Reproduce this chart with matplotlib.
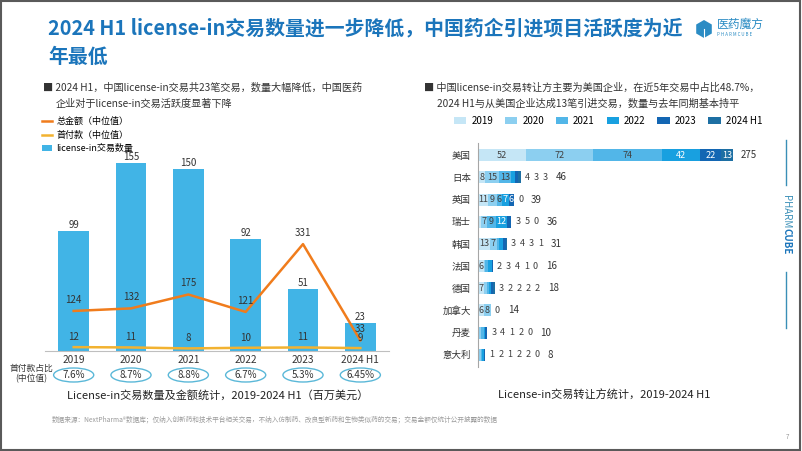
import matplotlib.pyplot as plt
import matplotlib.transforms as mtransforms
from matplotlib.patches import Ellipse, Rectangle, Patch, Polygon
from matplotlib.lines import Line2D
import numpy as np

plt.rcParams['font.family'] = ['Noto Sans CJK SC', 'DejaVu Sans']

W, H = 802, 451

# left chart data
years = ['2019', '2020', '2021', '2022', '2023', '2024 H1']
deal_counts = [99, 155, 150, 92, 51, 23]
total_median = [124, 132, 175, 121, 331, 33]
upfront_median = [12, 11, 8, 10, 11, 9]
upfront_ratio = ['7.6%', '8.7%', '8.8%', '6.7%', '5.3%', '6.45%']

# right chart data
countries = ['美国', '日本', '英国', '瑞士', '韩国', '法国', '德国', '加拿大', '丹麦', '意大利']
series_names = ['2019', '2020', '2021', '2022', '2023', '2024 H1']
v2019 = [52, 8, 11, 3, 13, 6, 7, 6, 0, 1]
v2020 = [72, 15, 9, 7, 7, 2, 3, 8, 3, 2]
v2021 = [74, 13, 6, 9, 3, 3, 2, 0, 4, 1]
v2022 = [42, 4, 7, 12, 4, 4, 2, 0, 1, 2]
v2023 = [22, 3, 6, 5, 3, 1, 2, 0, 2, 2]
v2024 = [13, 3, 0, 0, 1, 0, 2, 0, 0, 0]

blue_title = '#1b75bb'
bar_blue = '#41b4e6'
orange = '#f07c1c'
yellow = '#f2b230'
text_dark = '#333333'
series_colors = ['#c5e6f6', '#8ccff0', '#52b6e8', '#18a0e0', '#1366b3', '#1d6fa3']


def fx(x):
    return x / W


def fy(y):
    return 1 - y / H


fig = plt.figure(figsize=(W / 100, H / 100), dpi=100)
fig.patch.set_facecolor('white')

# slide frame
fig.add_artist(Rectangle((0.001, 0.002), 0.997, 0.996, transform=fig.transFigure,
                         fill=False, edgecolor='#5a5a5a', lw=1.5))

# title
fig.text(fx(48), fy(28), '2024 H1 license-in交易数量进一步降低，中国药企引进项目活跃度为近',
         fontsize=14.3, fontweight='bold', color=blue_title, va='center')
fig.text(fx(48), fy(56), '年最低', fontsize=14.3, fontweight='bold', color=blue_title, va='center')

# logo (cube icon + name)
cx, cy, r = 704, 29, 9
hexagon = [(fx(cx + r * np.cos(a)), fy(cy + r * np.sin(a)))
           for a in np.radians([90, 150, 210, 270, 330, 30])]
fig.add_artist(Polygon(hexagon, closed=True, transform=fig.transFigure,
                       facecolor='#2b8cc4', edgecolor='none'))
fig.add_artist(Line2D([fx(cx), fx(cx)], [fy(cy), fy(cy + r)], transform=fig.transFigure,
                      color='white', lw=0.8))
fig.text(fx(717), fy(24), '医药魔方', fontsize=8.5, color='#2b8cc4', va='center')
fig.text(fx(717), fy(35), 'P H A R M C U B E', fontsize=3.2, color='#2b8cc4', va='center')

# right vertical brand
fig.add_artist(Line2D([fx(786), fx(786)], [fy(140), fy(185)], transform=fig.transFigure,
                      color='#3a8fb7', lw=1))
fig.add_artist(Line2D([fx(786), fx(786)], [fy(272), fy(328)], transform=fig.transFigure,
                      color='#3a8fb7', lw=1))
fig.text(fx(786), fy(228), 'PHARM', fontsize=7, color='#3a8fb7', rotation=-90,
         ha='center', va='bottom')
fig.text(fx(786), fy(228), 'CUBE', fontsize=7, color='#1b75bb', rotation=-90,
         ha='center', va='top', fontweight='bold')

# bullets
fig.text(fx(43), fy(88), '■ 2024 H1，中国license-in交易共23笔交易，数量大幅降低，中国医药',
         fontsize=7.3, color=text_dark, va='center')
fig.text(fx(56), fy(104), '企业对于license-in交易活跃度显著下降', fontsize=7.3, color=text_dark, va='center')
fig.text(fx(424), fy(88), '■ 中国license-in交易转让方主要为美国企业，在近5年交易中占比48.7%，',
         fontsize=7.3, color=text_dark, va='center')
fig.text(fx(437), fy(104), '2024 H1与从美国企业达成13笔引进交易，数量与去年同期基本持平',
         fontsize=7.3, color=text_dark, va='center')

# ---------- left chart ----------
ax = fig.add_axes([fx(45), fy(351), fx(389 - 45), (351 - 155) / H])
ax.patch.set_alpha(0)
x = np.arange(len(years))
ax.bar(x, deal_counts, width=0.54, color=bar_blue, zorder=2)
ax.set_xlim(-0.5, len(years) - 0.5)
ax.set_ylim(0, 161.6)
for i, v in enumerate(deal_counts):
    ax.annotate(str(v), (i, v), xytext=(0, 1), textcoords='offset pixels',
                ha='center', va='bottom', fontsize=7, color=text_dark)
ax.set_xticks(x)
ax.set_xticklabels(years, fontsize=7.3, color=text_dark)
ax.tick_params(axis='x', length=0, pad=3)
ax.set_yticks([])
for s in ['top', 'left', 'right']:
    ax.spines[s].set_visible(False)
ax.spines['bottom'].set_color('#bfbfbf')

ax2 = ax.twinx()
ax2.patch.set_alpha(0)
ax2.plot(x, total_median, color=orange, lw=1.8, zorder=3)
ax2.plot(x, upfront_median, color=yellow, lw=1.8, zorder=3)
ax2.set_ylim(0, 607)
ax2.set_yticks([])
for s in ['top', 'left', 'right', 'bottom']:
    ax2.spines[s].set_visible(False)
for i, v in enumerate(total_median):
    ax2.annotate(str(v), (i, v), xytext=(0, 6), textcoords='offset pixels',
                 ha='center', va='bottom', fontsize=7, color=text_dark)
for i, v in enumerate(upfront_median):
    ax2.annotate(str(v), (i, v), xytext=(0, 5), textcoords='offset pixels',
                 ha='center', va='bottom', fontsize=7, color=text_dark)

# left legend
left_handles = [Line2D([], [], color=orange, lw=1.8),
                Line2D([], [], color=yellow, lw=1.8),
                Patch(facecolor=bar_blue)]
fig.legend(left_handles, ['总金额（中位值）', '首付款（中位值）', 'license-in交易数量'],
           loc='upper left', bbox_to_anchor=(fx(42), fy(117)), frameon=False,
           fontsize=6.5, handlelength=1.1, handletextpad=0.5, labelspacing=0.5,
           borderaxespad=0, borderpad=0)

# ratio row
blend = mtransforms.blended_transform_factory(ax.transData, fig.transFigure)
for i, r in enumerate(upfront_ratio):
    ax.add_artist(Ellipse((i, fy(375)), 0.7, 14 / H, transform=blend, fill=False,
                          edgecolor='#5bb8d8', lw=1, clip_on=False))
    ax.text(i, fy(375), r, transform=blend, ha='center', va='center', fontsize=7,
            color=text_dark, clip_on=False)
fig.text(fx(31), fy(368), '首付款占比', fontsize=6.3, style='italic', color=text_dark,
         ha='center', va='center')
fig.text(fx(31), fy(379), '(中位值)', fontsize=6.3, style='italic', color=text_dark,
         ha='center', va='center')

fig.text(fx(218), fy(395), 'License-in交易数量及金额统计，2019-2024 H1（百万美元）',
         fontsize=8, color='#222222', ha='center', va='center')

# ---------- right chart ----------
axr = fig.add_axes([fx(478), fy(367), fx(760 - 478), (367 - 143) / H])
axr.patch.set_alpha(0)
px_per_unit = 0.927
axr.set_xlim(0, (760 - 478) / px_per_unit)
axr.set_ylim(9.55, -0.55)
yy = np.arange(len(countries))
series = [v2019, v2020, v2021, v2022, v2023, v2024]
left = np.zeros(len(countries))
for k, vals in enumerate(series):
    axr.barh(yy, vals, left=left, height=0.54, color=series_colors[k], label=series_names[k])
    left = left + np.array(vals)

totals = left
for i in range(len(countries)):
    start = 0
    outside = []
    for k, vals in enumerate(series):
        v = vals[i]
        seg_px = v * px_per_unit
        if v > 0 and seg_px >= len(str(v)) * 5:
            tc = '#404040' if k < 3 else 'white'
            axr.text(start + v / 2, i, str(v), ha='center', va='center', fontsize=6.5, color=tc)
        elif v > 0 or start > 0:
            outside.append(v)
        start += v
    # collapse repeated trailing zeros
    while len(outside) > 1 and outside[-1] == 0 and outside[-2] == 0:
        outside.pop()
    off = 4
    for v in outside:
        axr.annotate(str(v), (totals[i], i), xytext=(off, 0), textcoords='offset pixels',
                     ha='left', va='center', fontsize=6.5, color='#404040')
        off += 9
    axr.annotate(str(int(totals[i])), (totals[i], i), xytext=(off + 4, 0),
                 textcoords='offset pixels', ha='left', va='center', fontsize=7, color=text_dark)

axr.set_yticks(yy)
axr.set_yticklabels(countries, fontsize=6.8, color=text_dark)
axr.tick_params(axis='y', length=0, pad=5)
axr.set_xticks([])
for s in ['top', 'right', 'bottom']:
    axr.spines[s].set_visible(False)
axr.spines['left'].set_color('#a6a6a6')

h, l = axr.get_legend_handles_labels()
fig.legend(h, l, loc='center', bbox_to_anchor=(fx(608), fy(121)), ncol=6, frameon=False,
           fontsize=7, handlelength=1.3, handleheight=0.8, handletextpad=0.5,
           columnspacing=1.2)

fig.text(fx(604), fy(395), 'License-in交易转让方统计，2019-2024 H1',
         fontsize=8, color='#222222', ha='center', va='center')

fig.text(fx(52), fy(420),
         '数据来源：NextPharma®数据库；仅纳入创新药和技术平台相关交易，不纳入仿制药、改良型新药和生物类似药的交易；交易金额仅统计公开披露的数据',
         fontsize=4.8, color='#9a9a9a', va='center')
fig.text(fx(786), fy(437), '7', fontsize=4.5, color='#9a9a9a', va='center')

fig.savefig('out.png', dpi=100)
